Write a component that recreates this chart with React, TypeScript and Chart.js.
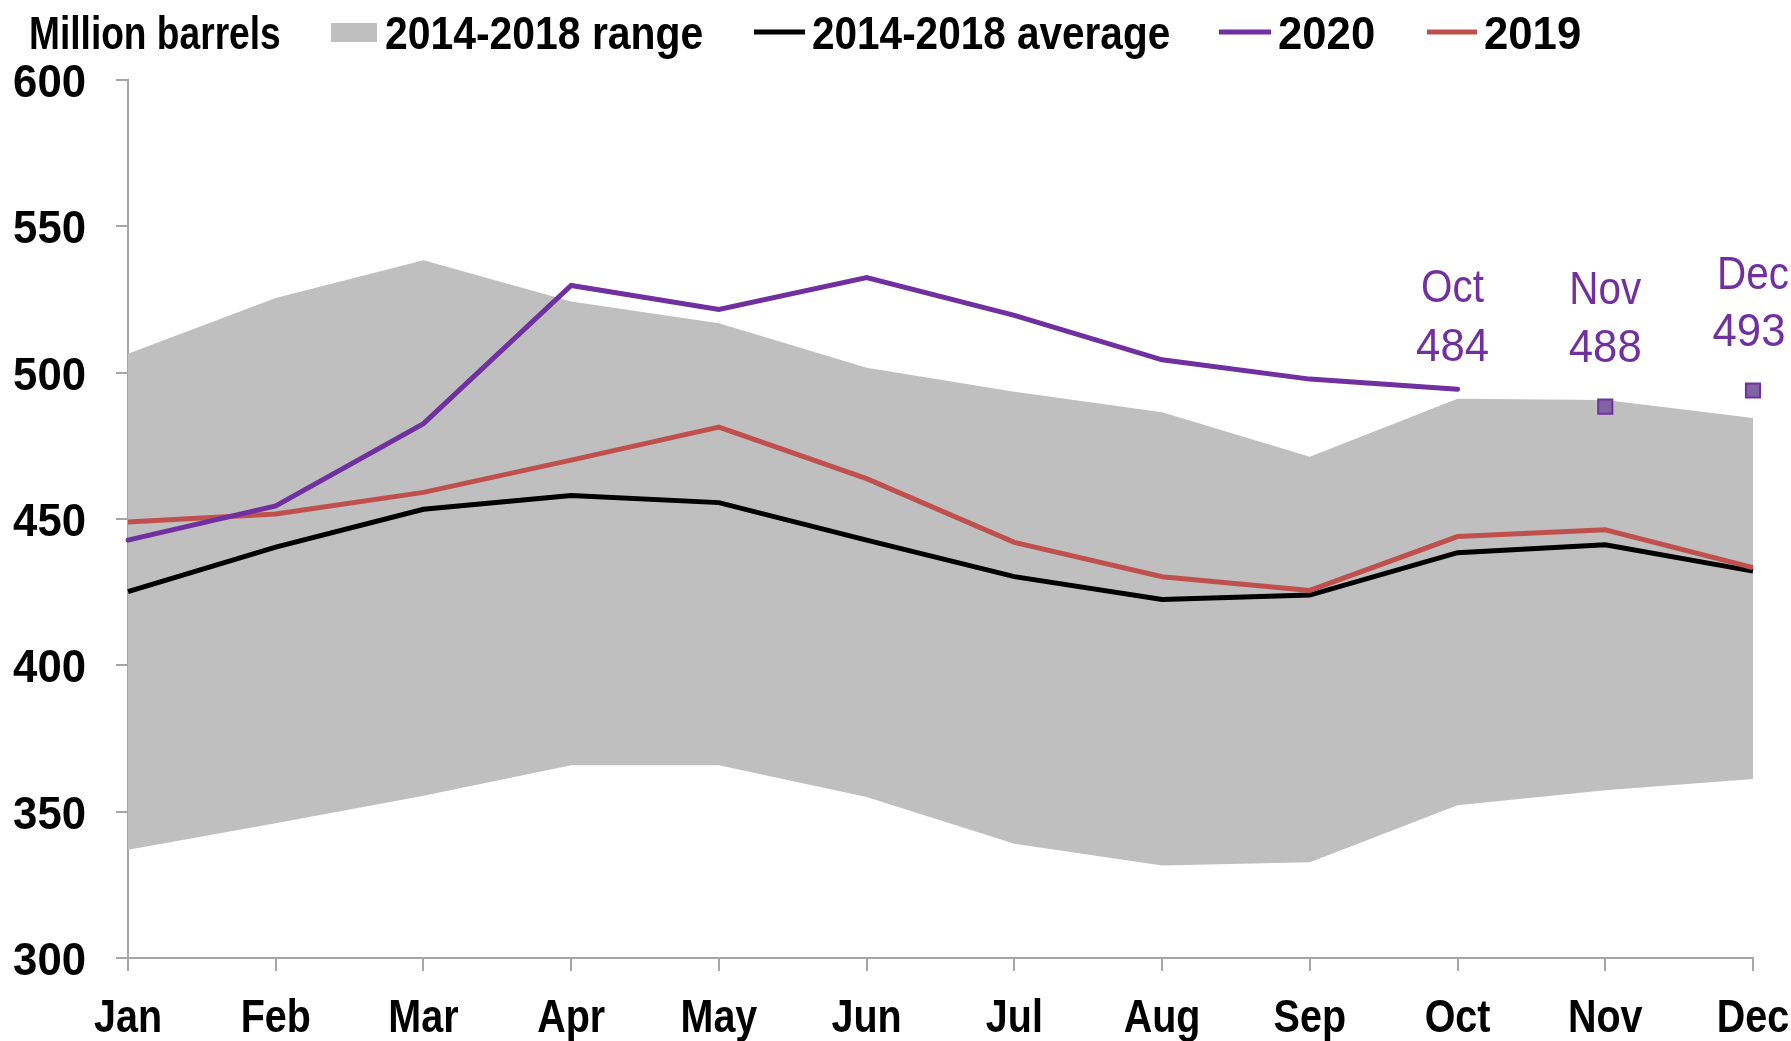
import React, { useEffect, useRef } from "react";
import { Chart, registerables } from "chart.js";

Chart.register(...registerables);

const months = ["Jan", "Feb", "Mar", "Apr", "May", "Jun", "Jul", "Aug", "Sep", "Oct", "Nov", "Dec"];
const rangeHigh = [506.5, 525.5, 538.4, 524.3, 516.9, 501.7, 493.5, 486.5, 471.3, 491.1, 490.7, 484.5];
const rangeLow = [337, 346, 355.4, 365.9, 365.9, 355, 339, 331.6, 332.7, 352.2, 357.3, 361.2];
const avg1418 = [425.2, 440.4, 453.3, 458, 455.6, 442.8, 430.3, 422.5, 424, 438.5, 441.2, 432.2];
const y2019 = [449, 451.7, 459.1, 470.1, 481.4, 463.8, 442, 430.3, 425.6, 444, 446.3, 433.4];
const y2020 = [442.8, 454.5, 482.6, 529.8, 521.6, 532.5, 519.6, 504.4, 497.8, 494.3, null, null];
const y2020Forecast = [null, null, null, null, null, null, null, null, null, null, 488.4, 493.9];
const calloutMonths = ["Oct", "Nov", "Dec"];
const calloutValues = ["484", "488", "493"];
const yTicks = [300, 350, 400, 450, 500, 550, 600];

const FONT = "'Liberation Sans', Arial, sans-serif";
const SIZE = 47;
const CAP = 17; // half cap height
const PURPLE = "#7030a0";
const RED = "#c0504d";
const GRAY = "#bfbfbf";
const AXIS = "#a6a6a6";

function drawText(
  ctx: CanvasRenderingContext2D,
  text: string,
  x: number,
  y: number,
  align: "left" | "center" | "right",
  bold: boolean,
  color: string,
  sxOverride?: number
) {
  // horizontal squeeze to emulate a condensed face
  const sx = sxOverride ?? (/^\d+$/.test(text) ? 0.93 : 0.84);
  ctx.save();
  ctx.font = `${bold ? "bold " : ""}${SIZE}px ${FONT}`;
  ctx.fillStyle = color;
  ctx.textBaseline = "alphabetic";
  ctx.textAlign = align;
  ctx.translate(x, y + CAP);
  ctx.scale(sx, 1);
  ctx.fillText(text, 0, 0);
  ctx.restore();
}

export default function App() {
  const ref = useRef<HTMLCanvasElement | null>(null);

  useEffect(() => {
    if (!ref.current) return;

    const textPlugin = {
      id: "texts",
      afterDraw(chart: any) {
        const ctx = chart.ctx as CanvasRenderingContext2D;
        const xs = chart.scales.x;
        const ys = chart.scales.y;

        // legend row
        const cy = 32;
        drawText(ctx, "Million barrels", 29, cy, "left", true, "#000", 0.79);
        ctx.save();
        ctx.fillStyle = GRAY;
        ctx.fillRect(331, 23, 46, 19);
        ctx.restore();
        drawText(ctx, "2014-2018 range", 385, cy, "left", true, "#000", 0.87);
        const items = [
          { x1: 754, x2: 805, tx: 812, color: "#000", text: "2014-2018 average", sx: 0.862 },
          { x1: 1219, x2: 1271, tx: 1278, color: PURPLE, text: "2020", sx: 0.93 },
          { x1: 1427, x2: 1477, tx: 1484, color: RED, text: "2019", sx: 0.93 },
        ];
        for (const it of items) {
          ctx.save();
          ctx.strokeStyle = it.color;
          ctx.lineWidth = 5;
          ctx.beginPath();
          ctx.moveTo(it.x1, cy);
          ctx.lineTo(it.x2, cy);
          ctx.stroke();
          ctx.restore();
          drawText(ctx, it.text, it.tx, cy, "left", true, "#000", it.sx);
        }

        // y tick labels
        yTicks.forEach((v) => {
          drawText(ctx, String(v), xs.left - 42, ys.getPixelForValue(v), "right", true, "#000");
        });
        // x tick labels
        months.forEach((m, i) => {
          drawText(ctx, m, xs.getPixelForValue(i), ys.bottom + 57, "center", true, "#000");
        });
      },
      afterDatasetsDraw(chart: any) {
        const ctx = chart.ctx as CanvasRenderingContext2D;
        const xs = chart.scales.x;
        const ys = chart.scales.y;
        const callouts = [
          { idx: 9, val: y2020[9] as number, o1: 104, o2: 45, dx: -5 },
          { idx: 10, val: y2020Forecast[10] as number, o1: 120, o2: 62, dx: 0 },
          { idx: 11, val: y2020Forecast[11] as number, o1: 119, o2: 62, dx: -4 },
        ];
        callouts.forEach((o, i) => {
          const x = xs.getPixelForValue(o.idx) + o.dx;
          const y = ys.getPixelForValue(o.val);
          drawText(ctx, calloutMonths[i], x + (i === 2 ? 4 : 0), y - o.o1, "center", false, PURPLE, 0.86);
          drawText(ctx, calloutValues[i], x, y - o.o2, "center", false, PURPLE, 0.93);
        });
      },
    };

    const chart = new Chart(ref.current, {
      type: "line",
      data: {
        labels: months,
        datasets: [
          {
            label: "low",
            data: rangeLow,
            borderWidth: 0,
            pointRadius: 0,
            fill: false,
            order: 10,
            borderColor: "rgba(0,0,0,0)",
          },
          {
            label: "2014-2018 range",
            data: rangeHigh,
            borderWidth: 0,
            pointRadius: 0,
            fill: "-1",
            backgroundColor: GRAY,
            borderColor: "rgba(0,0,0,0)",
            order: 9,
          },
          {
            label: "2014-2018 average",
            data: avg1418,
            borderColor: "#000",
            borderWidth: 5,
            pointRadius: 0,
            fill: false,
            order: 3,
          },
          {
            label: "2019",
            data: y2019,
            borderColor: RED,
            borderWidth: 5,
            pointRadius: 0,
            fill: false,
            order: 2,
          },
          {
            label: "2020",
            data: y2020,
            borderColor: PURPLE,
            borderWidth: 5,
            borderCapStyle: "round",
            pointRadius: 0,
            fill: false,
            spanGaps: false,
            order: 1,
          },
          {
            label: "2020 forecast",
            data: y2020Forecast,
            showLine: false,
            pointStyle: "rect",
            pointRadius: 10,
            pointBorderWidth: 2,
            pointBackgroundColor: "#8064a2",
            pointBorderColor: PURPLE,
            borderColor: PURPLE,
            fill: false,
            order: 0,
          },
        ],
      },
      options: {
        responsive: false,
        animation: false,
        maintainAspectRatio: false,
        layout: { padding: { top: 80, right: 38, left: 0, bottom: 0 } },
        plugins: {
          legend: { display: false },
          tooltip: { enabled: false },
        },
        elements: { line: { tension: 0 } },
        scales: {
          x: {
            type: "category",
            offset: false,
            grid: {
              drawOnChartArea: false,
              drawTicks: true,
              tickLength: 13,
              color: AXIS,
              lineWidth: 2,
            },
            border: { color: AXIS, width: 2 },
            ticks: { display: false, autoSkip: false },
            afterFit(scale: any) {
              scale.height = 83;
            },
          },
          y: {
            min: 300,
            max: 600,
            afterBuildTicks(scale: any) {
              scale.ticks = yTicks.map((v) => ({ value: v }));
            },
            grid: {
              drawOnChartArea: false,
              drawTicks: true,
              tickLength: 12,
              color: AXIS,
              lineWidth: 2,
            },
            border: { color: AXIS, width: 2 },
            ticks: { display: false },
            afterFit(scale: any) {
              scale.width = 128;
            },
          },
        },
      },
      plugins: [textPlugin],
    } as any);

    return () => chart.destroy();
  }, []);

  return (
    <div style={{ position: "absolute", left: 0, top: 0, width: 1791, height: 1041, background: "#fff" }}>
      <canvas ref={ref} width={1791} height={1041} style={{ width: 1791, height: 1041 }} />
    </div>
  );
}
